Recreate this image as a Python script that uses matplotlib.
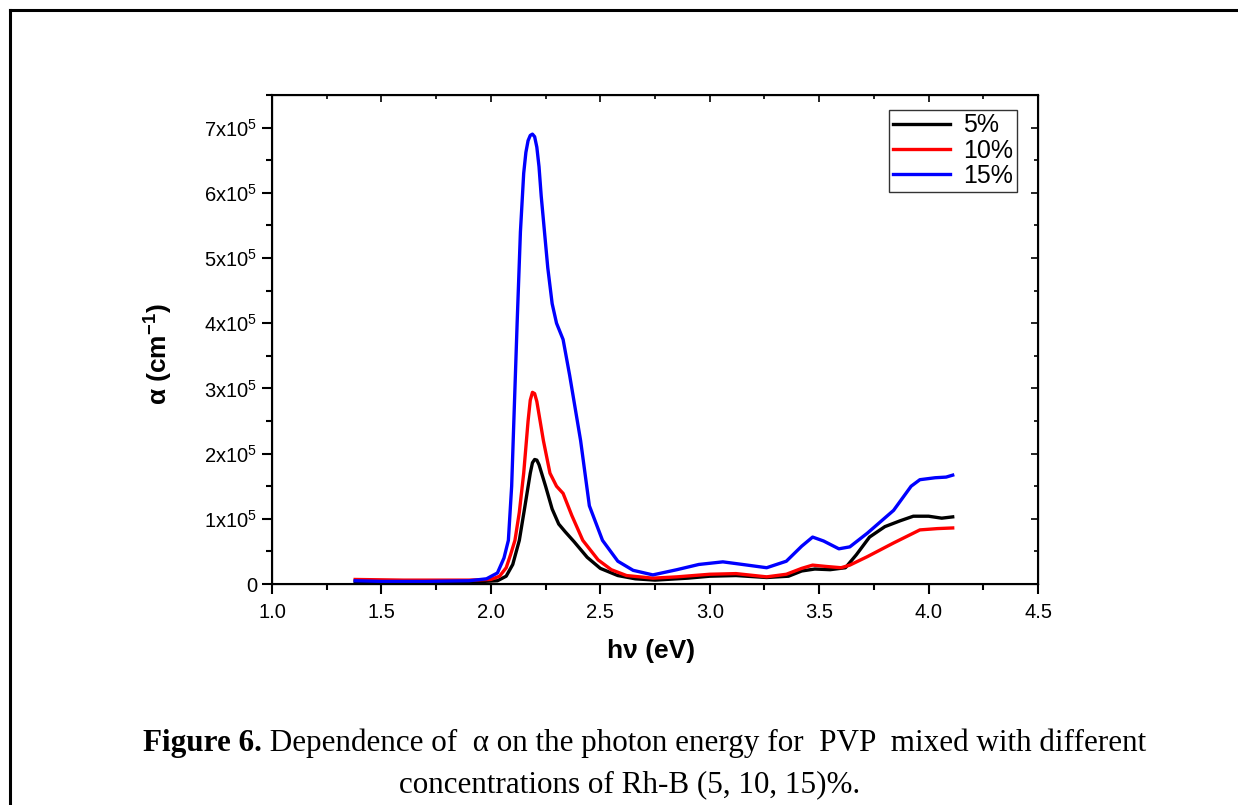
import numpy as np
import matplotlib.pyplot as plt
from matplotlib.lines import Line2D
from matplotlib.ticker import MultipleLocator, FixedLocator, FormatStrFormatter

plt.rcParams['font.family'] = ['Liberation Sans', 'DejaVu Sans']
plt.rcParams['mathtext.fontset'] = 'custom'
plt.rcParams['mathtext.rm'] = 'Liberation Sans'
plt.rcParams['mathtext.bf'] = 'Liberation Sans:bold'

# photon energy (eV) and absorption coefficient (x1e5 cm^-1)
x_5 = [1.38, 1.6, 1.9, 2.03, 2.07, 2.10, 2.13, 2.155, 2.18, 2.19, 2.20, 2.21, 2.22, 2.25,
       2.28, 2.31, 2.34, 2.38, 2.44, 2.50, 2.58, 2.66, 2.75, 2.90, 3.00, 3.12, 3.26,
       3.36, 3.42, 3.48, 3.55, 3.62, 3.67, 3.73, 3.80, 3.87, 3.93, 4.00, 4.06, 4.11]
a_5 = [0.03, 0.03, 0.03, 0.05, 0.12, 0.30, 0.67, 1.18, 1.70, 1.86, 1.91, 1.90, 1.83, 1.50,
       1.15, 0.92, 0.80, 0.65, 0.41, 0.24, 0.13, 0.08, 0.06, 0.09, 0.12, 0.13, 0.10,
       0.12, 0.20, 0.23, 0.22, 0.25, 0.45, 0.72, 0.88, 0.97, 1.04, 1.04, 1.01, 1.03]

x_10 = [1.38, 1.6, 1.9, 2.00, 2.04, 2.07, 2.09, 2.11, 2.13, 2.15, 2.17, 2.18, 2.19, 2.20,
        2.21, 2.24, 2.27, 2.30, 2.33, 2.37, 2.42, 2.49, 2.55, 2.62, 2.74, 2.85, 3.00,
        3.12, 3.26, 3.35, 3.42, 3.47, 3.53, 3.60, 3.64, 3.72, 3.84, 3.96, 4.04, 4.11]
a_10 = [0.07, 0.06, 0.06, 0.07, 0.12, 0.25, 0.45, 0.67, 1.10, 1.70, 2.50, 2.82, 2.94, 2.92,
        2.80, 2.20, 1.70, 1.50, 1.39, 1.05, 0.67, 0.37, 0.22, 0.13, 0.09, 0.11, 0.15,
        0.16, 0.11, 0.15, 0.24, 0.29, 0.27, 0.25, 0.29, 0.42, 0.63, 0.83, 0.85, 0.86]

x_15 = [1.38, 1.5, 1.7, 1.9, 1.98, 2.03, 2.06, 2.08, 2.095, 2.11, 2.12, 2.135, 2.15,
        2.16, 2.17, 2.18, 2.19, 2.20, 2.21, 2.22, 2.23, 2.26, 2.28, 2.30, 2.33, 2.36,
        2.41, 2.45, 2.51, 2.58, 2.65, 2.74, 2.85, 2.95, 3.06, 3.15, 3.26, 3.35, 3.42,
        3.47, 3.52, 3.59, 3.64, 3.72, 3.84, 3.92, 3.96, 4.03, 4.08, 4.11]
a_15 = [0.05, 0.04, 0.04, 0.05, 0.08, 0.17, 0.40, 0.67, 1.50, 3.00, 4.00, 5.40, 6.30,
        6.62, 6.80, 6.88, 6.90, 6.86, 6.70, 6.40, 5.95, 4.85, 4.30, 4.00, 3.75, 3.20,
        2.20, 1.20, 0.67, 0.35, 0.21, 0.14, 0.22, 0.30, 0.34, 0.30, 0.25, 0.35, 0.58,
        0.72, 0.66, 0.54, 0.57, 0.78, 1.13, 1.50, 1.60, 1.63, 1.64, 1.67]

labels = ['5%', '10%', '15%']
colors = ['black', 'red', 'blue']
y_ticks = [0, 1, 2, 3, 4, 5, 6, 7]
y_tick_labels = ['0'] + [f'{n}x10$^5$' for n in y_ticks[1:]]

fig = plt.figure(figsize=(12.38, 8.05), dpi=100)
ax = fig.add_axes([0.2197, 0.2745, 0.6188, 0.6075])

for xs, ys, lab, c in zip([x_5, x_10, x_15], [a_5, a_10, a_15], labels, colors):
    ax.plot(xs, np.array(ys) * 1e5, color=c, lw=2.4, label=lab)

ax.set_xlim(1.0, 4.5)
ax.set_ylim(0, 7.5e5)
ax.xaxis.set_major_locator(MultipleLocator(0.5))
ax.xaxis.set_minor_locator(MultipleLocator(0.25))
ax.xaxis.set_major_formatter(FormatStrFormatter('%.1f'))
ax.yaxis.set_major_locator(FixedLocator(np.array(y_ticks) * 1e5))
ax.yaxis.set_minor_locator(MultipleLocator(0.5e5))
ax.set_yticklabels(y_tick_labels)
ax.tick_params(which='major', direction='out', length=7, width=1.5, labelsize=14.5)
ax.tick_params(axis='x', which='major', pad=7)
ax.tick_params(which='minor', direction='out', length=4, width=1.5)
for s in ax.spines.values():
    s.set_linewidth(1.5)

# inward ticks on the top and right, Origin style
top = ax.twiny()
top.set_xlim(ax.get_xlim())
top.xaxis.set_major_locator(MultipleLocator(0.5))
top.xaxis.set_minor_locator(MultipleLocator(0.25))
top.tick_params(which='both', direction='in', labeltop=False, width=1.2)
top.tick_params(which='major', length=5)
top.tick_params(which='minor', length=3)
right = ax.twinx()
right.set_ylim(ax.get_ylim())
right.yaxis.set_major_locator(MultipleLocator(1e5))
right.yaxis.set_minor_locator(MultipleLocator(0.5e5))
right.tick_params(which='both', direction='in', labelright=False, width=1.2)
right.tick_params(which='major', length=5)
right.tick_params(which='minor', length=3)

ax.set_xlabel('h\u03bd (eV)', fontsize=19, fontweight='bold')
ax.set_ylabel('\u03b1 (cm$^{\\mathbf{-1}}$)', fontsize=19, fontweight='bold')
ax.xaxis.set_label_coords(0.495, -0.112)
ax.yaxis.set_label_coords(-0.128, 0.47)

leg = right.legend(*ax.get_legend_handles_labels(), loc='upper right',
                   bbox_to_anchor=(0.972, 0.97), fontsize=18,
                   frameon=True, fancybox=False, edgecolor='black', handlelength=2.3,
                   handletextpad=0.5, borderpad=0.15, labelspacing=0.05, borderaxespad=0)
leg.get_frame().set_linewidth(1.0)

# outer frame of the figure panel
fig.add_artist(Line2D([10 / 1238, 10 / 1238], [0, 1 - 10 / 805], color='black', lw=2.2,
                      transform=fig.transFigure))
fig.add_artist(Line2D([10 / 1238, 1], [1 - 10 / 805, 1 - 10 / 805], color='black', lw=2.2,
                      transform=fig.transFigure))

# caption
serif = ['Liberation Serif', 'DejaVu Serif']
t1 = fig.text(143 / 1238, 1 - 743 / 805, 'Figure 6.', fontsize=22.4, fontweight='bold',
              family=serif, va='center', ha='left')
ax.annotate(' Dependence of  \u03b1 on the photon energy for  PVP  mixed with different',
            xy=(1, 0.5), xycoords=t1, va='center', ha='left', fontsize=22.4, family=serif,
            annotation_clip=False)
fig.text(630 / 1238, 1 - 785 / 805, 'concentrations of Rh-B (5, 10, 15)%.', fontsize=22.4,
         family=serif, va='center', ha='center')

fig.savefig('out.png', dpi=100)
